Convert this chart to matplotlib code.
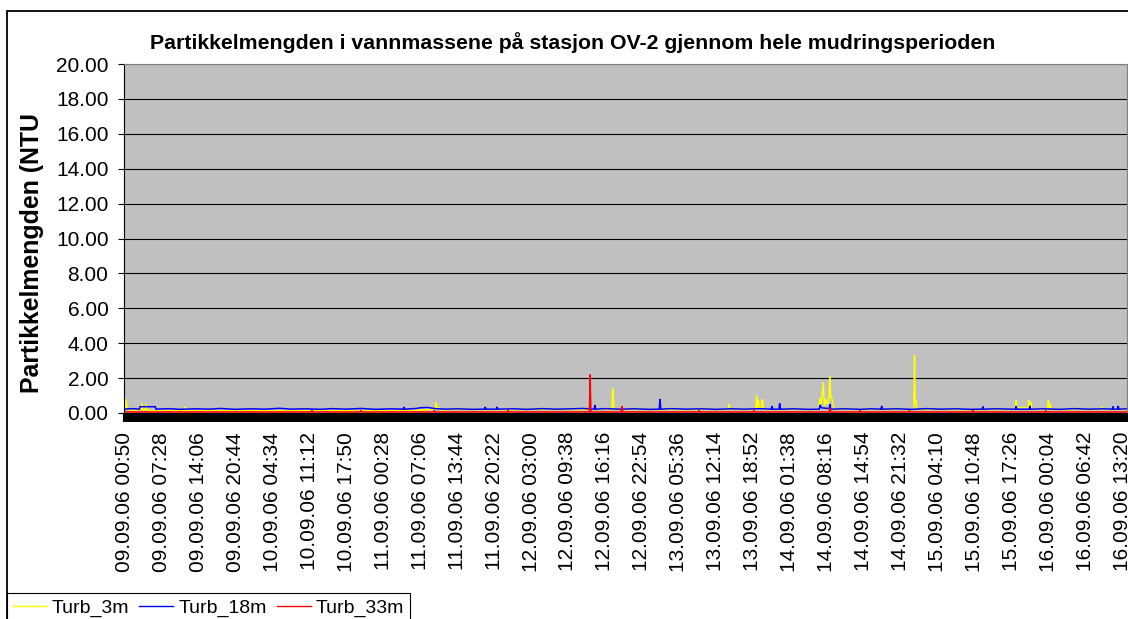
import matplotlib
matplotlib.use('Agg')
import matplotlib.pyplot as plt
from matplotlib.ticker import MultipleLocator, FormatStrFormatter
from matplotlib.patches import Rectangle
from matplotlib.lines import Line2D
from matplotlib.transforms import Bbox, TransformedBbox

plt.rcParams['font.family'] = ['Liberation Sans', 'DejaVu Sans']

# tick labels (category axis, one label every N samples)
tick_labels = ["09.09.06 00:50", "09.09.06 07:28", "09.09.06 14:06", "09.09.06 20:44",
               "10.09.06 04:34", "10.09.06 11:12", "10.09.06 17:50", "11.09.06 00:28",
               "11.09.06 07:06", "11.09.06 13:44", "11.09.06 20:22", "12.09.06 03:00",
               "12.09.06 09:38", "12.09.06 16:16", "12.09.06 22:54", "13.09.06 05:36",
               "13.09.06 12:14", "13.09.06 18:52", "14.09.06 01:38", "14.09.06 08:16",
               "14.09.06 14:54", "14.09.06 21:32", "15.09.06 04:10", "15.09.06 10:48",
               "15.09.06 17:26", "16.09.06 00:04", "16.09.06 06:42", "16.09.06 13:20"]

# (position in label steps, NTU)
turb_3m = [(-0.03, 0.15), (0.02, 0.3), (0.04, 0.8), (0.07, 0.2), (0.25, 0.15), (0.45, 0.2),
           (0.47, 0.55), (0.5, 0.15), (0.56, 0.2), (0.58, 0.5), (0.61, 0.15), (0.8, 0.12),
           (1.0, 0.14), (1.5, 0.12), (1.62, 0.15), (1.64, 0.36), (1.66, 0.13), (2.2, 0.14),
           (3.0, 0.12), (3.8, 0.13), (4.5, 0.12), (5.3, 0.14), (6.0, 0.13), (6.8, 0.12),
           (7.5, 0.14), (8.0, 0.16), (8.3, 0.2), (8.41, 0.2), (8.43, 0.6), (8.45, 0.25),
           (8.5, 0.3), (8.55, 0.18), (9.0, 0.2), (10.0, 0.19), (11.0, 0.2), (12.0, 0.2),
           (13.0, 0.21), (13.19, 0.2), (13.21, 1.4), (13.23, 0.8), (13.25, 0.2), (14.0, 0.2),
           (15.0, 0.19), (16.0, 0.2), (16.34, 0.2), (16.36, 0.52), (16.38, 0.2), (16.68, 0.2),
           (16.70, 0.3), (16.72, 0.2), (17.08, 0.2), (17.11, 1.03), (17.13, 0.3), (17.15, 0.75),
           (17.18, 0.3), (17.23, 0.3), (17.25, 0.75), (17.27, 0.75), (17.29, 0.2), (18.0, 0.2),
           (18.78, 0.2), (18.82, 0.84), (18.85, 0.5), (18.91, 1.76), (18.94, 0.4), (18.98, 0.8),
           (19.02, 0.5), (19.05, 0.6), (19.09, 2.12), (19.11, 0.9), (19.14, 0.84), (19.17, 0.6),
           (19.2, 0.2), (20.0, 0.2), (21.0, 0.2), (21.36, 0.2), (21.38, 3.3), (21.40, 0.5),
           (21.42, 0.75), (21.44, 0.2), (22.0, 0.2), (23.0, 0.19), (24.1, 0.2), (24.13, 0.75),
           (24.16, 0.3), (24.45, 0.3), (24.48, 0.73), (24.5, 0.5), (24.53, 0.6), (24.56, 0.2),
           (24.98, 0.2), (25.0, 0.75), (25.03, 0.3), (25.05, 0.55), (25.08, 0.2), (26.0, 0.2),
           (26.43, 0.2), (26.45, 0.35), (26.47, 0.2), (27.13, 0.2)]

turb_18m = [(-0.03, 0.22), (0.2, 0.25), (0.4, 0.22), (0.42, 0.36), (0.83, 0.36), (0.85, 0.22),
            (1.2, 0.25), (1.5, 0.21), (1.9, 0.24), (2.3, 0.22), (2.6, 0.26), (3.0, 0.21),
            (3.4, 0.24), (3.8, 0.22), (4.2, 0.27), (4.5, 0.22), (4.9, 0.24), (5.3, 0.21),
            (5.6, 0.25), (6.0, 0.22), (6.4, 0.26), (6.8, 0.21), (7.2, 0.24), (7.54, 0.22),
            (7.56, 0.35), (7.58, 0.22), (7.9, 0.26), (8.0, 0.3), (8.2, 0.32), (8.4, 0.25),
            (8.7, 0.22), (9.0, 0.24), (9.4, 0.21), (9.74, 0.22), (9.76, 0.35), (9.78, 0.22),
            (10.06, 0.22), (10.08, 0.35), (10.10, 0.22), (10.5, 0.24), (10.9, 0.21), (11.3, 0.25),
            (11.7, 0.22), (12.1, 0.24), (12.4, 0.26), (12.71, 0.22), (12.73, 0.46), (12.75, 0.22),
            (13.0, 0.25), (13.4, 0.22), (13.8, 0.24), (14.2, 0.21), (14.47, 0.22), (14.49, 0.8),
            (14.51, 0.22), (14.8, 0.25), (15.2, 0.22), (15.6, 0.24), (16.0, 0.21), (16.4, 0.24),
            (16.8, 0.22), (17.2, 0.25), (17.5, 0.22), (17.52, 0.4), (17.54, 0.22), (17.71, 0.22),
            (17.73, 0.55), (17.75, 0.22), (18.1, 0.24), (18.5, 0.21), (18.80, 0.22), (18.82, 0.46),
            (18.86, 0.3), (19.07, 0.25), (19.09, 0.5), (19.11, 0.22), (19.5, 0.24), (19.9, 0.21),
            (20.2, 0.24), (20.47, 0.22), (20.49, 0.4), (20.51, 0.22), (20.9, 0.24), (21.3, 0.21),
            (21.7, 0.25), (22.1, 0.22), (22.5, 0.24), (22.9, 0.21), (23.21, 0.22), (23.23, 0.37),
            (23.25, 0.22), (23.6, 0.24), (24.0, 0.22), (24.11, 0.22), (24.13, 0.4), (24.15, 0.22),
            (24.48, 0.22), (24.50, 0.4), (24.52, 0.22), (24.9, 0.24), (25.3, 0.21), (25.7, 0.25),
            (26.1, 0.22), (26.5, 0.24), (26.73, 0.22), (26.75, 0.37), (26.77, 0.22), (26.87, 0.22),
            (26.89, 0.4), (26.91, 0.22), (27.13, 0.24)]

turb_33m = [(-0.03, 0.06), (2.0, 0.06), (5.05, 0.06), (5.07, 0.15), (5.09, 0.06), (6.38, 0.06),
            (6.40, 0.15), (6.42, 0.06), (8.36, 0.06), (8.38, 0.15), (8.40, 0.06), (10.36, 0.06),
            (10.38, 0.15), (10.40, 0.06), (12.58, 0.06), (12.60, 2.2), (12.62, 0.06), (13.44, 0.06),
            (13.46, 0.4), (13.48, 0.06), (15.53, 0.06), (15.55, 0.15), (15.57, 0.06), (17.01, 0.06),
            (17.03, 0.15), (17.05, 0.06), (19.07, 0.06), (19.09, 0.3), (19.11, 0.06), (19.89, 0.06),
            (19.91, 0.15), (19.93, 0.06), (21.22, 0.06), (21.24, 0.15), (21.26, 0.06), (22.94, 0.06),
            (22.96, 0.15), (22.98, 0.06), (24.91, 0.06), (24.93, 0.15), (24.95, 0.06), (27.13, 0.06)]

series = [("Turb_3m", turb_3m, "#FFFF00"),
          ("Turb_18m", turb_18m, "#0000FF"),
          ("Turb_33m", turb_33m, "#FF0000")]

W, H = 1128, 619
fig = plt.figure(figsize=(W / 100, H / 100), dpi=100)
ax = fig.add_axes([123.5 / W, 1 - 413 / H, (1127 - 123.5) / W, (413 - 64) / H])
ax.set_facecolor('#C0C0C0')

handles = []
for name, pts, col in series:
    xs = [p[0] for p in pts]
    ys = [p[1] for p in pts]
    ax.plot(xs, ys, color=col, lw=1.1, solid_joinstyle='miter')
    handles.append(Line2D([], [], color=col, lw=1.0))

ax.set_xlim(-0.03, 27.13)
ax.set_ylim(0, 20)
ax.yaxis.set_major_locator(MultipleLocator(2))
ax.yaxis.set_major_formatter(FormatStrFormatter('%.2f'))
ax.yaxis.grid(True, color='black', lw=0.8)
ax.set_axisbelow(True)

# dense category ticks -> solid black band under the axis
ax.set_xticks(range(len(tick_labels)))
ax.set_xticklabels(tick_labels, rotation=90)
ax.xaxis.set_minor_locator(MultipleLocator(0.04))
ax.tick_params(axis='x', which='both', length=6.3, width=3, color='black', direction='out')
ax.tick_params(axis='x', which='major', labelsize=15, pad=7.3)
ax.tick_params(axis='y', length=4.3, width=0.8, labelsize=15, pad=6.5)

for s in ['top', 'right']:
    ax.spines[s].set_color('#808080')
for s in ['left', 'bottom']:
    ax.spines[s].set_color('black')

fig.text(572.5 / W, 1 - 43 / H,
         "Partikkelmengden i vannmassene på stasjon OV-2 gjennom hele mudringsperioden",
         ha='center', va='center', fontsize=15.3, fontweight='bold')

ylab = fig.text(32.5 / W, 1 - 393 / H, "Partikkelmengden (NTU)", rotation=90,
                ha='center', va='bottom', fontsize=17.9, fontweight='bold')
ylab.set_clip_on(True)
ylab.set_clip_box(TransformedBbox(Bbox.from_extents(0, 0, 1, 1 - 114 / H), fig.transFigure))

# outer chart frame (continues beyond the crop)
fig.add_artist(Rectangle((7 / W, -0.2), 1.2, 1.2 - 10.5 / H, transform=fig.transFigure,
                         fill=False, edgecolor='black', lw=1.3))

leg = fig.legend(handles, [s[0] for s in series], loc='upper left',
                 bbox_to_anchor=(7 / W, 1 - 593 / H), ncol=3, fontsize=14,
                 frameon=True, fancybox=False, edgecolor='black', framealpha=1,
                 handlelength=1.75, handletextpad=0.26, columnspacing=0.51,
                 borderpad=0.3, borderaxespad=0)
leg.get_frame().set_linewidth(0.8)

fig.savefig('out.png', dpi=100)
